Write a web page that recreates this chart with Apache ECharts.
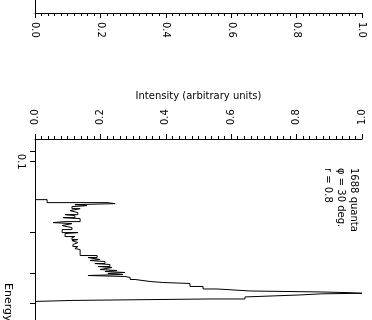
<!DOCTYPE html>
<html>
<head>
<meta charset="utf-8">
<script src="https://cdn.jsdelivr.net/npm/echarts@6/dist/echarts.min.js"></script>
<style>
  html, body { margin: 0; padding: 0; background: #fff; }
  #chart { width: 372px; height: 320px; }
</style>
</head>
<body>
<div id="chart"></div>
<script>
// Spectrum histogram: each bin starts at binEnergy[i] and holds binIntensity[i].
const binEnergy = [
  0.1451, 0.1494, 0.1509, 0.1524, 0.1539, 0.1554, 0.1585, 0.1616, 0.1648, 0.1681,
  0.1697, 0.1731, 0.1748, 0.1800, 0.1818, 0.1836, 0.1872, 0.1909, 0.1947, 0.2005,
  0.2025, 0.2085, 0.2106, 0.2148, 0.2169, 0.2212, 0.2255, 0.2300, 0.2345, 0.2369,
  0.2512, 0.2562, 0.2612, 0.2638, 0.2664, 0.2717, 0.2743, 0.2798, 0.2825, 0.2881,
  0.2910, 0.2938, 0.2967, 0.2996, 0.3026, 0.3056, 0.3086, 0.3116, 0.3178, 0.3241,
  0.3273, 0.3305, 0.3403, 0.3488, 0.3557, 0.3592, 0.3617, 0.3638, 0.3659, 0.3699,
  0.3772, 0.3847, 0.3904, 0.3942
];
const binIntensity = [
  0.037, 0.220, 0.245, 0.122, 0.159, 0.113, 0.138, 0.107, 0.131, 0.092,
  0.122, 0.086, 0.138, 0.092, 0.055, 0.113, 0.083, 0.113, 0.083, 0.131,
  0.092, 0.122, 0.113, 0.131, 0.113, 0.131, 0.116, 0.131, 0.122, 0.138,
  0.190, 0.162, 0.199, 0.168, 0.214, 0.183, 0.229, 0.193, 0.235, 0.199,
  0.251, 0.214, 0.275, 0.223, 0.269, 0.162, 0.275, 0.291, 0.306, 0.352,
  0.391, 0.474, 0.514, 0.557, 0.657, 0.875, 0.963, 1.000, 0.875, 0.810,
  0.642, 0.535, 0.113, 0.000
];

// Axis ticks and labels
const intensityTicks = ['0.0', '0.2', '0.4', '0.6', '0.8', '1.0'];
const energyTicks = [0.09, 0.1, 0.2, 0.3, 0.4, 0.5];
const energyLabels = [0.1];
const energyRange = [0.08, 0.473];

// Annotation
const noteLines = ['1688 quanta', 'φ = 30 deg.', 'r = 0.8'];

const FONT = 'DejaVu Sans';

// Staircase path: vertical runs across each bin, horizontal jumps at bin edges
const stepPoints = [[0, binEnergy[0]]];
for (let i = 0; i < binEnergy.length; i++) {
  if (i > 0) stepPoints.push([binIntensity[i - 1], binEnergy[i]]);
  stepPoints.push([binIntensity[i], binEnergy[i]]);
}

function intensityAxis(gridIndex, position, margin, withName) {
  const ax = {
    gridIndex: gridIndex,
    type: 'value',
    position: position,
    min: 0, max: 1, interval: 0.2,
    axisLine: { show: true, onZero: false, lineStyle: { color: '#000', width: 1 } },
    axisTick: { show: true, inside: false, length: 5, lineStyle: { color: '#000', width: 1 } },
    minorTick: { show: true, splitNumber: 10, length: 3, lineStyle: { color: '#000', width: 1 } },
    splitLine: { show: false },
    axisLabel: {
      rotate: -90, margin: margin, color: '#000', fontSize: 10, fontFamily: FONT,
      formatter: function (v) { return intensityTicks[Math.round(v / 0.2)]; }
    }
  };
  if (withName) {
    ax.name = 'Intensity (arbitrary units)';
    ax.nameLocation = 'middle';
    ax.nameGap = 35;
    ax.nameTextStyle = { color: '#000', fontSize: 10, fontFamily: FONT };
  }
  return ax;
}

const chart = echarts.init(document.getElementById('chart'), null, { renderer: 'canvas' });
chart.setOption({
  backgroundColor: '#fff',
  animation: false,
  grid: [
    { left: 35, top: 139, width: 327, bottom: 0 },
    { left: 35, top: 0, width: 327, height: 13 }
  ],
  xAxis: [
    intensityAxis(0, 'top', 14, true),
    intensityAxis(1, 'bottom', 9, false)
  ],
  yAxis: [
    {
      gridIndex: 0,
      type: 'log', logBase: 10,
      min: energyRange[0], max: energyRange[1],
      inverse: true,
      axisLine: { show: true, onZero: false, lineStyle: { color: '#000', width: 1 } },
      axisTick: { show: true, length: 5, customValues: energyTicks, lineStyle: { color: '#000', width: 1 } },
      minorTick: { show: false },
      splitLine: { show: false },
      axisLabel: {
        customValues: energyLabels, rotate: -90, margin: 9,
        color: '#000', fontSize: 10, fontFamily: FONT,
        formatter: function (v) { return String(v); }
      }
    },
    {
      gridIndex: 1,
      type: 'value', min: 0, max: 1,
      axisLine: { show: true, onZero: false, lineStyle: { color: '#000', width: 1 } },
      axisTick: { show: false },
      axisLabel: { show: false },
      splitLine: { show: false }
    }
  ],
  series: [
    {
      type: 'line',
      xAxisIndex: 0, yAxisIndex: 0,
      data: stepPoints,
      showSymbol: false,
      lineStyle: { color: '#000', width: 1 }
    }
  ],
  graphic: [
    {
      type: 'text', x: 13, y: 283, rotation: -Math.PI / 2,
      style: { text: 'Energy', fill: '#000', font: '11px "DejaVu Sans"', textAlign: 'left', textVerticalAlign: 'top' }
    },
    {
      type: 'text', x: 360, y: 168, rotation: -Math.PI / 2,
      style: { text: noteLines.join('\n'), fill: '#000', font: '10px "DejaVu Sans"', lineHeight: 13, textAlign: 'left', textVerticalAlign: 'top' }
    }
  ]
});
</script>
</body>
</html>
